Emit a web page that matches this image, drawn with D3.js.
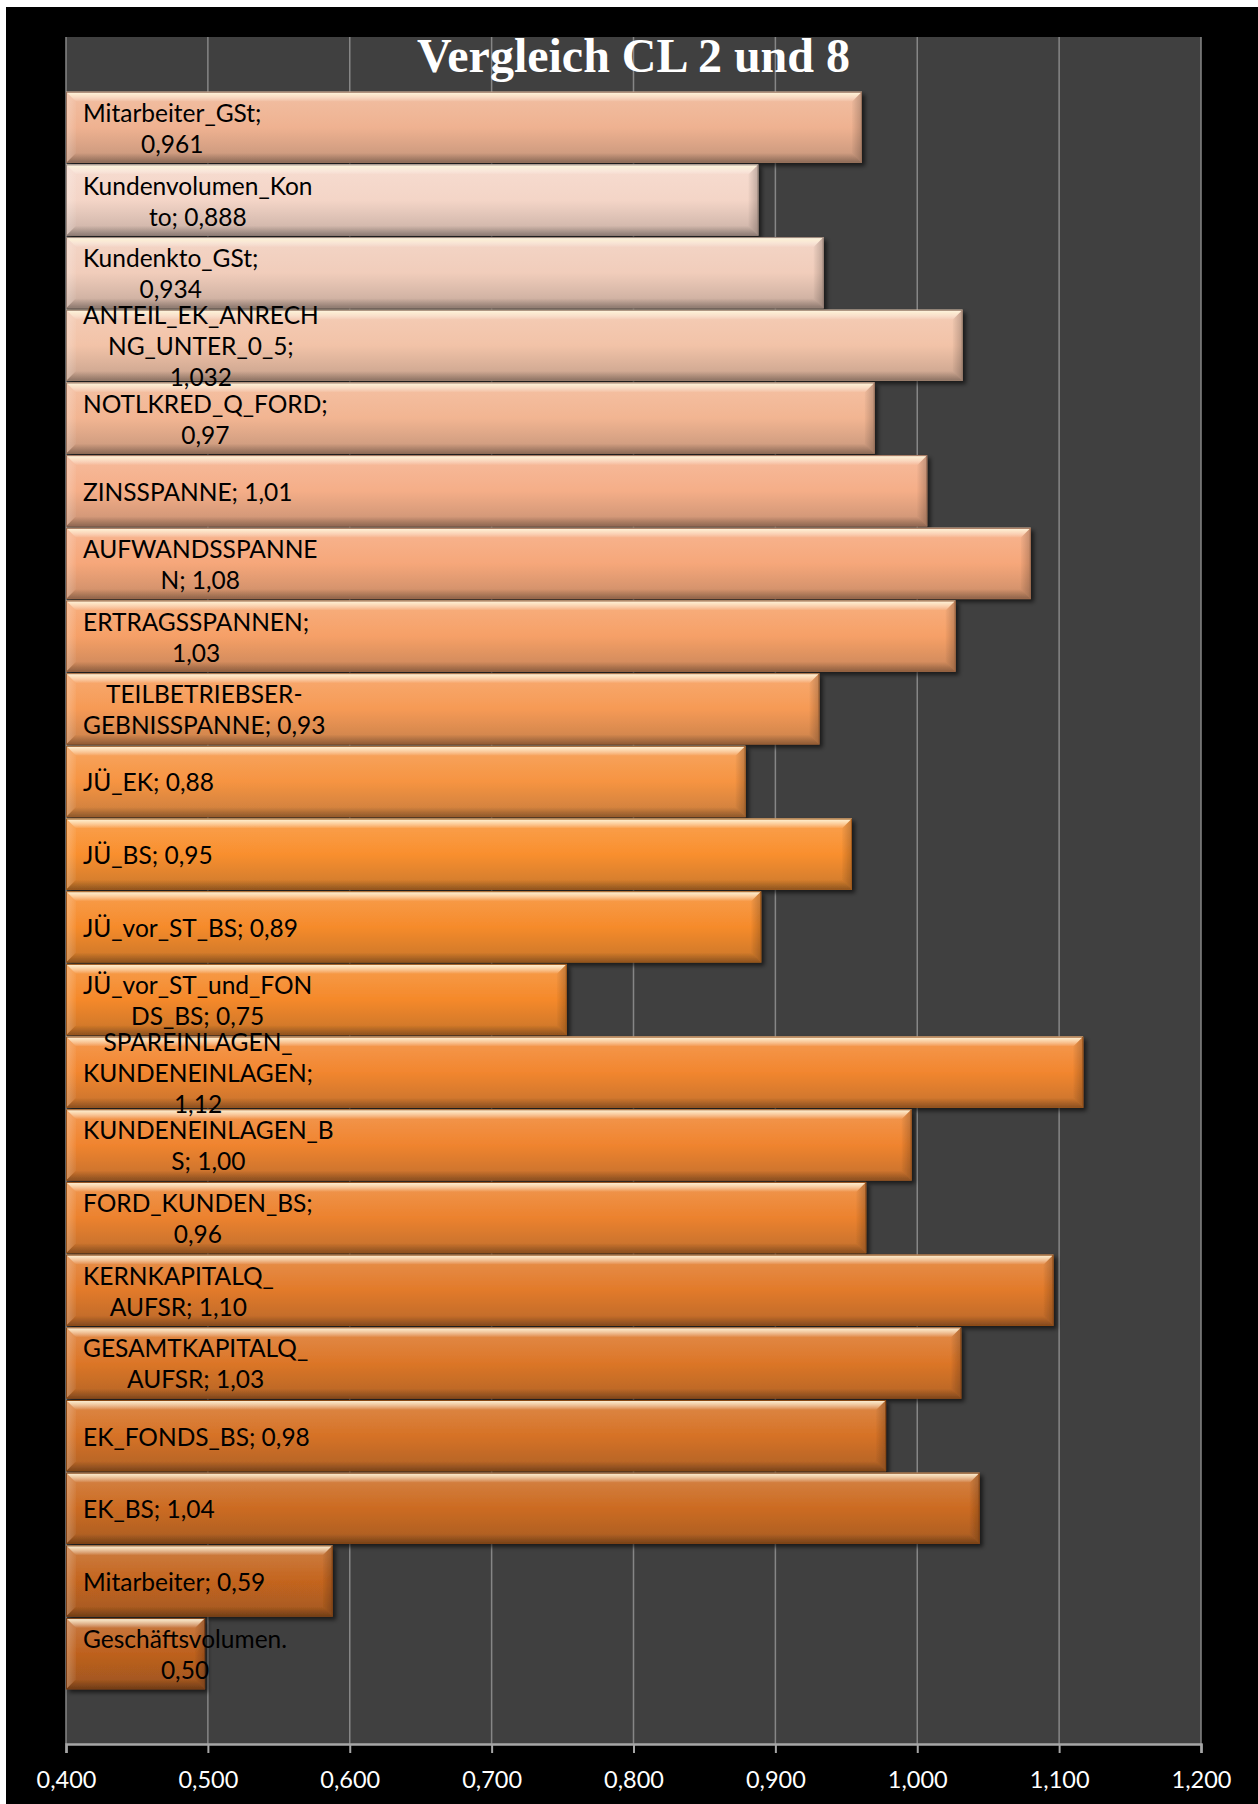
<!DOCTYPE html>
<html>
<head>
<meta charset="utf-8">
<script src="https://cdn.jsdelivr.net/npm/d3@7"></script>
<style>
  html, body { margin: 0; padding: 0; background: #ffffff; }
  svg { display: block; }
</style>
</head>
<body>
<svg id="chart" width="1258" height="1804"></svg>
<script>
// Category names, top to bottom
const categories = [
  "Mitarbeiter_GSt", "Kundenvolumen_Konto", "Kundenkto_GSt", "ANTEIL_EK_ANRECHNG_UNTER_0_5",
  "NOTLKRED_Q_FORD", "ZINSSPANNE", "AUFWANDSSPANNEN", "ERTRAGSSPANNEN",
  "TEILBETRIEBSER-GEBNISSPANNE", "JÜ_EK", "JÜ_BS", "JÜ_vor_ST_BS",
  "JÜ_vor_ST_und_FONDS_BS", "SPAREINLAGEN_KUNDENEINLAGEN", "KUNDENEINLAGEN_BS", "FORD_KUNDEN_BS",
  "KERNKAPITALQ_AUFSR", "GESAMTKAPITALQ_AUFSR", "EK_FONDS_BS", "EK_BS",
  "Mitarbeiter", "Geschäftsvolumen."
];

// Ratio cluster 2 vs. cluster 8
const values = [
  0.961, 0.888, 0.934, 1.032,
  0.97, 1.007, 1.080, 1.027,
  0.931, 0.879, 0.954, 0.890,
  0.753, 1.117, 0.996, 0.964,
  1.096, 1.031, 0.978, 1.044,
  0.588, 0.498
];

// Decimal places shown in each data label (null = general number format)
const labelDecimals = [null, null, null, null, null, 2, 2, 2, 2, 2, 2, 2, 2, 2, 2, 2, 2, 2, 2, 2, 2, 2];

// Character positions where a data label wraps onto a new line
const labelBreaks = [
  [16], [17], [14], [16, 29], [16], [], [14], [15], [15], [], [], [],
  [17], [13, 28], [16], [15], [13], [15], [], [], [], [17]
];

// Base fill of each bar
const barColors = [
  "#EFB291", "#F4D5C7", "#F1CDBB", "#F2C3A8", "#F2B592", "#F5AE88",
  "#F6A77A", "#F6A067", "#F69A55", "#F69442", "#F98F2E", "#F68B2B",
  "#F5892A", "#F2862F", "#F0842F", "#EC822E", "#E27A2A", "#DC7628",
  "#D67226", "#CC6B22", "#C4651F", "#BE611E"
];

const axisMin = 0.4, axisMax = 1.2;
const titleText = "Vergleich CL 2 und 8";

const svg = d3.select("#chart");
const W = 1258, H = 1804;
const plot = { left: 66, right: 1201, top: 37, bottom: 1744 };

const locale = d3.formatLocale({ decimal: ",", thousands: ".", grouping: [3], currency: ["", " €"] });
const tickFmt = locale.format(".3f");

function labelValue(v, dec) {
  if (dec == null) {
    return String(+v.toFixed(3)).replace(".", ",");
  }
  return locale.format("." + dec + "f")(v);
}

// Outer frame
svg.append("rect").attr("x", 6).attr("y", 7).attr("width", W - 6).attr("height", H - 7).attr("fill", "#000");

// Plot area
svg.append("rect")
  .attr("x", plot.left).attr("y", plot.top)
  .attr("width", plot.right - plot.left).attr("height", plot.bottom - plot.top)
  .attr("fill", "#404040");

const x = d3.scaleLinear().domain([axisMin, axisMax]).range([plot.left, plot.right]);
const y = d3.scaleBand().domain(categories)
  .range([plot.top + 54, plot.bottom - 54])
  .paddingInner(0.02).paddingOuter(0.01);

const ticks = d3.range(0, 9).map(i => +(axisMin + i * 0.1).toFixed(1));

// Vertical gridlines
svg.append("g").selectAll("line").data(ticks).join("line")
  .attr("x1", d => x(d)).attr("x2", d => x(d))
  .attr("y1", plot.top).attr("y2", plot.bottom)
  .attr("stroke", "#868686").attr("stroke-width", 1.5);

// Title
svg.append("text")
  .attr("x", (plot.left + plot.right) / 2).attr("y", 72)
  .attr("text-anchor", "middle")
  .attr("font-family", "'Liberation Serif', 'Times New Roman', serif")
  .attr("font-weight", "bold").attr("font-size", 48)
  .attr("fill", "#ffffff")
  .text(titleText);

// Shared bevel gradients and shadow
const defs = svg.append("defs");
function grad(id, horizontal, stops) {
  const g = defs.append("linearGradient").attr("id", id)
    .attr("x1", 0).attr("y1", 0).attr("x2", horizontal ? 1 : 0).attr("y2", horizontal ? 0 : 1);
  stops.forEach(s => g.append("stop").attr("offset", s[0]).attr("stop-color", s[1]).attr("stop-opacity", s[2]));
}
grad("bevelTop", false, [[0, "#fffbe6", 0.95], [0.35, "#fff6dc", 0.7], [1, "#ffffff", 0.0]]);
grad("bevelBottom", false, [[0, "#000", 0.0], [1, "#000", 0.3]]);
grad("bevelRight", true, [[0, "#000", 0.02], [1, "#000", 0.22]]);
grad("bevelLeft", true, [[0, "#fff", 0.25], [1, "#fff", 0.04]]);

const shadow = defs.append("filter").attr("id", "barShadow")
  .attr("x", "-5%").attr("y", "-10%").attr("width", "110%").attr("height", "130%");
shadow.append("feDropShadow").attr("dx", 3).attr("dy", 3).attr("stdDeviation", 2)
  .attr("flood-color", "#000").attr("flood-opacity", 0.6);

barColors.forEach((c, i) => {
  const g = defs.append("linearGradient").attr("id", "body" + i)
    .attr("x1", 0).attr("y1", 0).attr("x2", 0).attr("y2", 1);
  g.append("stop").attr("offset", 0.08).attr("stop-color", d3.interpolateRgb(c, "#fff")(0.14));
  g.append("stop").attr("offset", 0.5).attr("stop-color", c);
  g.append("stop").attr("offset", 1).attr("stop-color", d3.interpolateRgb(c, "#2a2a2a")(0.22));
});

// Bars
const data = categories.map((cat, i) => ({ cat, v: values[i], i }));
const bevel = 10;
const bars = svg.append("g").selectAll("g").data(data).join("g")
  .attr("transform", d => `translate(${x(axisMin)},${y(d.cat)})`)
  .attr("filter", "url(#barShadow)");

bars.each(function (d) {
  const g = d3.select(this);
  const w = x(d.v) - x(axisMin), h = y.bandwidth(), b = Math.min(bevel, w / 2);
  g.append("rect").attr("width", w).attr("height", h).attr("fill", `url(#body${d.i})`);
  g.append("polygon").attr("points", `0,0 ${w},0 ${w - b},${b} ${b},${b}`).attr("fill", "url(#bevelTop)");
  g.append("polygon").attr("points", `${b},${h - b} ${w - b},${h - b} ${w},${h} 0,${h}`).attr("fill", "url(#bevelBottom)");
  g.append("polygon").attr("points", `${w - b},${b} ${w},0 ${w},${h} ${w - b},${h - b}`).attr("fill", "url(#bevelRight)");
  g.append("polygon").attr("points", `0,0 ${b},${b} ${b},${h - b} 0,${h}`).attr("fill", "url(#bevelLeft)");
  g.append("rect").attr("x", 0.5).attr("y", 0.5).attr("width", w - 1).attr("height", h - 1)
    .attr("fill", "none").attr("stroke", d3.color(barColors[d.i]).darker(1.3)).attr("stroke-width", 1);
});

// X axis
const axis = d3.axisBottom(x).tickValues(ticks).tickSize(9).tickFormat(tickFmt);
const ax = svg.append("g").attr("transform", `translate(0,${plot.bottom})`).call(axis);
ax.select(".domain").attr("stroke", "#a6a6a6").attr("stroke-width", 2.5);
ax.selectAll(".tick line").attr("stroke", "#a6a6a6").attr("stroke-width", 2);
ax.selectAll(".tick text")
  .attr("y", 43.5).attr("dy", null)
  .attr("fill", "#ffffff")
  .attr("font-family", "Lato, 'Open Sans', sans-serif")
  .attr("font-size", 23.5);

// Data labels (inside base, wrapped, lines centred within the label box)
const labelLeft = 83, lineGap = 31;
const labels = svg.append("g")
  .attr("font-family", "Lato, 'Open Sans', sans-serif")
  .attr("font-size", 24.5).attr("fill", "#000");

data.forEach(d => {
  const sep = d.cat.endsWith(".") ? " " : "; ";
  const full = d.cat + sep + labelValue(d.v, labelDecimals[d.i]);
  const cuts = [0, ...labelBreaks[d.i], full.length];
  const lines = [];
  for (let k = 0; k < cuts.length - 1; k++) lines.push(full.slice(cuts[k], cuts[k + 1]).trim());
  const cy = y(d.cat) + y.bandwidth() / 2;
  const t = labels.append("g");
  const nodes = lines.map((ln, k) =>
    t.append("text")
      .attr("y", cy + (k - (lines.length - 1) / 2) * lineGap + 10)
      .attr("text-anchor", "middle")
      .text(ln));
  const maxW = d3.max(nodes, n => n.node().getComputedTextLength());
  nodes.forEach(n => n.attr("x", labelLeft + maxW / 2));
});
</script>
</body>
</html>
